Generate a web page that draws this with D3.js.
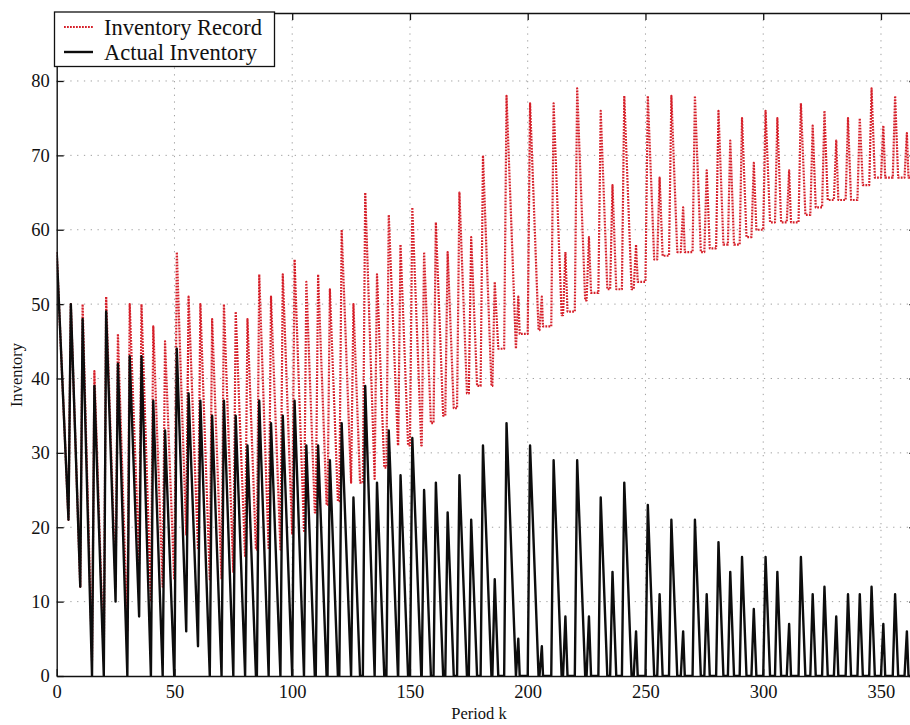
<!DOCTYPE html>
<html>
<head>
<meta charset="utf-8">
<script src="https://cdn.jsdelivr.net/npm/d3@7"></script>
<style>
  html, body { margin: 0; padding: 0; background: #fff; }
  svg { display: block; }
  text { font-family: "Liberation Serif", "Times New Roman", serif; fill: #111; }
</style>
</head>
<body>
<svg id="chart" width="910" height="725"></svg>
<script>
// Opening stock run-down before the first replenishment (both series agree here)
const openingK = [0, 5];
const openingLevel = [57, 21];

// Periods at which a replenishment arrives (level peaks one period later)
const replenishK = [5, 10, 15, 20, 25, 30, 35, 40, 45, 50, 55, 60, 65, 70, 75, 80, 85, 90,
  95, 100, 105, 110, 115, 120, 125, 130, 135, 140, 145, 150, 155, 160, 165, 170, 175, 180,
  185, 190, 195, 200, 205, 210, 215, 220, 225, 230, 235, 240, 245, 250, 255, 260, 265, 270,
  275, 280, 285, 290, 295, 300, 305, 310, 315, 320, 325, 330, 335, 340, 345, 350, 355, 360];

// Recorded inventory: level right after each replenishment and level it runs down to
const recordPeak = [50, 50, 41, 51, 46, 50, 50, 47, 45, 57, 51, 50, 48, 50, 49, 48, 54, 51,
  54, 56, 53, 54, 52, 60, 50, 65, 54, 62, 58, 63, 57, 61, 57, 65, 59, 70,
  53, 78, 51, 77, 51, 77, 57, 79, 59, 76, 66, 78, 58, 78, 67, 78, 63, 78,
  68, 76, 72, 75, 69, 76, 75, 68, 77, 74, 76, 72, 75, 75, 79, 74, 78, 73];
const recordLow = [12, 2, 2, 12, 6, 15, 10, 12, 13, 19, 17, 13, 13, 14, 16, 17, 17, 17,
  19, 19.5, 22, 23, 23.5, 26, 26, 26.5, 28, 31, 31, 31, 34, 35, 36, 38, 39, 39,
  44, 44, 46, 46.5, 47, 48.5, 49, 50.5, 51.5, 52, 52, 52, 53, 56, 56.5, 57, 57, 57,
  57.5, 58, 58, 59, 60, 61, 61, 61, 62, 63, 64, 64, 64, 66, 67, 67, 67, 67];

// Actual inventory on hand
const actualPeak = [50, 48, 39, 49, 42, 43, 43, 37, 33, 44, 38, 37, 35, 37, 35, 31, 37, 34,
  35, 37, 31, 31, 29, 34, 24, 39, 26, 33, 27, 32, 25, 26, 22, 27, 21, 31,
  13, 34, 5, 31, 4, 29, 8, 29, 8, 24, 14, 26, 6, 23, 11, 21, 6, 21,
  11, 18, 14, 16, 9, 16, 14, 7, 16, 11, 12, 8, 11, 11, 12, 7, 11, 6];
const actualLow = [12, 0, 0, 10, 0, 8, 0, 0, 0, 6, 4, 0, 0, 0, 0, 0, 0, 0,
  0, 0, 0, 0, 0, 0, 0, 0, 0, 0, 0, 0, 0, 0, 0, 0, 0, 0,
  0, 0, 0, 0, 0, 0, 0, 0, 0, 0, 0, 0, 0, 0, 0, 0, 0, 0,
  0, 0, 0, 0, 0, 0, 0, 0, 0, 0, 0, 0, 0, 0, 0, 0, 0, 0];

// Periods of selling after each peak before the level stops falling
const sellOut = [4, 4, 4, 4, 4, 4, 4, 4, 3.9, 4, 4, 4, 4, 4, 4, 3.6, 4, 4,
  4, 4, 3.6, 3.6, 3.4, 4, 2.8, 4, 3.1, 3.9, 3.2, 3.8, 2.9, 3.1, 2.6, 3.2, 2.5, 3.6,
  1.5, 4, 0.6, 3.6, 0.5, 3.4, 0.9, 3.4, 0.9, 2.8, 1.6, 3.1, 0.7, 2.7, 1.3, 2.5, 0.7, 2.5,
  1.3, 2.1, 1.6, 1.9, 1.1, 1.9, 1.6, 0.8, 1.9, 1.3, 1.4, 0.9, 1.3, 1.3, 1.4, 0.8, 1.3, 0.7];

const xTicks = [0, 50, 100, 150, 200, 250, 300, 350];
const yTicks = [0, 10, 20, 30, 40, 50, 60, 70, 80];
const seriesNames = ["Inventory Record", "Actual Inventory"];

// Vertex list of a sawtooth series: rise, run down, then hold until the next arrival
function vertices(peaks, lows) {
  const pts = openingK.map((k, i) => [k, openingLevel[i]]);
  replenishK.forEach((s, i) => {
    pts.push([s + 1, peaks[i]]);
    pts.push([s + 1 + sellOut[i], lows[i]]);
    pts.push([s + 5, lows[i]]);
  });
  return pts;
}

const svg = d3.select("#chart");
const x = d3.scaleLinear().domain([0, 365]).range([56.7, 916.3]);
const y = d3.scaleLinear().domain([0, 89.14]).range([676, 13]);
const [x0, x1] = x.range();
const [yb, yt] = y.range();

const recordStyle = { color: "#d6202a", width: 2.2, dash: "1.8 1.2" };
const actualStyle = { color: "#0d0d0d", width: 2.4 };

svg.append("rect").attr("width", 910).attr("height", 725).attr("fill", "#fff");

svg.append("defs").append("clipPath").attr("id", "plot")
  .append("rect").attr("x", x0).attr("y", yt).attr("width", x1 - x0).attr("height", yb - yt);

// dotted grid
const grid = svg.append("g").attr("stroke", "#a0a0a0").attr("stroke-width", 1)
  .attr("stroke-dasharray", "1.3 5.5");
grid.selectAll("line.v").data(xTicks.filter(d => d > 0)).join("line")
  .attr("x1", d => x(d)).attr("x2", d => x(d)).attr("y1", yt).attr("y2", yb);
grid.selectAll("line.h").data(yTicks.filter(d => d > 0)).join("line")
  .attr("x1", x0).attr("x2", x1).attr("y1", d => y(d)).attr("y2", d => y(d));

const line = d3.line().x(d => x(d[0])).y(d => y(d[1]));
const plot = svg.append("g").attr("clip-path", "url(#plot)");

plot.append("path").datum(vertices(recordPeak, recordLow))
  .attr("d", line).attr("fill", "none")
  .attr("stroke", recordStyle.color).attr("stroke-width", recordStyle.width)
  .attr("stroke-dasharray", recordStyle.dash).attr("stroke-linejoin", "round");

plot.append("path").datum(vertices(actualPeak, actualLow))
  .attr("d", line).attr("fill", "none")
  .attr("stroke", actualStyle.color).attr("stroke-width", actualStyle.width)
  .attr("stroke-linejoin", "round");

// axes with inward ticks on all four sides
const bottom = svg.append("g").attr("transform", `translate(0,${yb})`)
  .call(d3.axisBottom(x).tickValues(xTicks).tickSize(-7).tickSizeOuter(0).tickPadding(9));
const left = svg.append("g").attr("transform", `translate(${x0},0)`)
  .call(d3.axisLeft(y).tickValues(yTicks).tickSize(-7).tickSizeOuter(0).tickPadding(7));
svg.append("g").attr("transform", `translate(0,${yt})`)
  .call(d3.axisTop(x).tickValues(xTicks).tickSize(-7).tickSizeOuter(0).tickFormat(""));
svg.append("g").attr("transform", `translate(${x1},0)`)
  .call(d3.axisRight(y).tickValues(yTicks).tickSize(-7).tickSizeOuter(0).tickFormat(""));

svg.selectAll(".domain").attr("stroke", "#111").attr("stroke-width", 1.4);
svg.selectAll(".tick line").attr("stroke", "#111").attr("stroke-width", 1.3);
svg.selectAll(".tick text").style("font-family", '"Liberation Serif", "Times New Roman", serif')
  .style("font-size", "18.5px").attr("fill", "#111");

// axis titles
svg.append("text").attr("x", 479).attr("y", 719).attr("text-anchor", "middle")
  .style("font-size", "16.5px").text("Period k");
svg.append("text").attr("transform", "translate(22,375) rotate(-90)")
  .attr("text-anchor", "middle").style("font-size", "16.5px").text("Inventory");

// legend
const lg = svg.append("g");
lg.append("rect").attr("x", 54.5).attr("y", 12).attr("width", 220).attr("height", 54.5)
  .attr("fill", "#fff").attr("stroke", "#111").attr("stroke-width", 1.3);
lg.append("line").attr("x1", 64).attr("x2", 93).attr("y1", 27).attr("y2", 27)
  .attr("stroke", recordStyle.color).attr("stroke-width", recordStyle.width)
  .attr("stroke-dasharray", recordStyle.dash);
lg.append("line").attr("x1", 64).attr("x2", 93).attr("y1", 52).attr("y2", 52)
  .attr("stroke", actualStyle.color).attr("stroke-width", actualStyle.width);
lg.append("text").attr("x", 104).attr("y", 35).style("font-size", "22.5px").text(seriesNames[0]);
lg.append("text").attr("x", 104).attr("y", 60).style("font-size", "22.5px").text(seriesNames[1]);
</script>
</body>
</html>
